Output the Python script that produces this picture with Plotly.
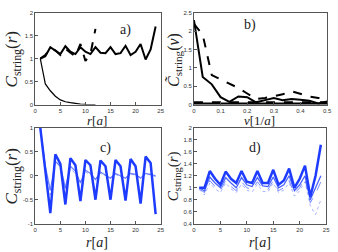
import plotly.graph_objects as go

# ---- data ----
r_a = list(range(1, 25))
a_solid = [1.0, 1.05, 1.25, 1.17, 1.1, 1.27, 1.15, 1.1, 1.25, 1.15, 1.1, 1.25,
           1.13, 1.12, 1.25, 1.1, 1.12, 1.28, 1.08, 1.15, 1.32, 0.98, 1.2, 1.7]
r_a_dash = list(range(1, 13))
a_dash = [1.0, 1.08, 1.22, 1.18, 1.08, 1.22, 1.13, 1.05, 1.32, 0.95, 1.1, 1.65]
r_decay = list(range(1, 13))
a_decay = [1.0, 0.45, 0.3, 0.18, 0.1, 0.06, 0.04, 0.02, 0.01, 0.005, 0.0, 0.0]

nu = [0, 0.033, 0.067, 0.1, 0.133, 0.167, 0.2, 0.233, 0.267, 0.3, 0.333, 0.367, 0.4, 0.433, 0.467, 0.5]
b_solid = [2.3, 0.75, 0.55, 0.2, 0.07, 0.22, 0.2, 0.06, 0.12, 0.18, 0.12, 0.15, 0.13, 0.1, 0.03, 0.08]
b_dash = [2.2, 1.9, 0.8, 0.68, 0.58, 0.45, 0.3, 0.15, 0.18, 0.22, 0.28, 0.36, 0.3, 0.22, 0.18, 0.16]
b_flat_dash = [0.06] * 16
b_flat_solid = [0.02] * 16

r_c = list(range(1, 25))
c_thick = [1.0, 0.1, -0.78, 0.45, 0.25, -0.6, 0.37, 0.22, -0.53, 0.33, 0.22, -0.5,
           0.32, 0.2, -0.5, 0.33, 0.2, -0.52, 0.35, 0.2, -0.58, 0.4, 0.27, -0.8]
c_thin1 = [1.0, 0.2, -0.3, 0.3, 0.2, -0.25, 0.2, 0.1, -0.15, 0.12, 0.05, -0.08,
           0.08, 0.02, -0.05, 0.05, 0.0, -0.05, 0.05, 0.03, -0.05, 0.05, 0.03, 0.0]
c_thin2 = [1.0, 0.15, -0.4, 0.35, 0.15, -0.3, 0.15, 0.05, -0.12, 0.08, 0.02, -0.06,
           0.05, 0.0, -0.04, 0.03, -0.02, -0.04, 0.03, 0.02, -0.04, 0.03, 0.02, -0.02]

r_d = list(range(1, 25))
d_thick = [1.0, 1.0, 1.28, 1.15, 1.05, 1.27, 1.15, 1.08, 1.28, 1.1, 1.08, 1.28,
           1.08, 1.08, 1.3, 1.05, 1.12, 1.32, 1.0, 1.15, 1.37, 0.85, 1.2, 1.72]
d_mid = [1.0, 0.95, 1.18, 1.08, 1.0, 1.17, 1.08, 1.0, 1.17, 1.05, 1.02, 1.17,
         1.03, 1.02, 1.18, 1.0, 1.05, 1.2, 0.95, 1.05, 1.2, 0.8, 1.0, 1.2]
d_thin = [0.98, 0.92, 1.12, 1.02, 0.95, 1.12, 1.02, 0.95, 1.1, 1.0, 0.97, 1.1,
          0.98, 0.97, 1.12, 0.95, 1.0, 1.12, 0.9, 1.0, 1.15, 0.75, 0.9, 1.1]
d_dot = [0.97, 0.88, 1.08, 0.98, 0.92, 1.08, 0.98, 0.92, 1.06, 0.96, 0.93, 1.06,
         0.94, 0.93, 1.08, 0.92, 0.96, 1.08, 0.86, 0.95, 1.1, 0.7, 0.55, 0.8]

BLUE = "rgb(30,60,255)"
fig = go.Figure()

def add(x, y, ax, color, width, dash="solid"):
    fig.add_trace(go.Scatter(x=x, y=y, mode="lines", xaxis="x" + ax, yaxis="y" + ax,
                             line=dict(color=color, width=width, dash=dash),
                             showlegend=False, hoverinfo="skip"))

# panel a
add(r_a, a_solid, "", "black", 2)
add(r_a_dash, a_dash, "", "black", 2, "dash")
add(r_decay, a_decay, "", "black", 1.2)
# panel b
add(nu, b_solid, "2", "black", 2)
add(nu, b_dash, "2", "black", 2, "dash")
add(nu, b_flat_dash, "2", "black", 2, "dash")
add(nu, b_flat_solid, "2", "black", 2.5)
# panel c
add(r_c, c_thin2, "3", "rgba(60,90,255,0.55)", 1, "dot")
add(r_c, c_thin1, "3", "rgba(60,90,255,0.75)", 1.2)
add(r_c, c_thick, "3", BLUE, 2.5)
# panel d
add(r_d, d_dot, "4", "rgba(60,90,255,0.45)", 1, "dot")
add(r_d, d_thin, "4", "rgba(60,90,255,0.7)", 1, "dash")
add(r_d, d_mid, "4", "rgba(40,70,255,0.85)", 1.3)
add(r_d, d_thick, "4", BLUE, 2.5)

W, H = 338, 252
def px(x): return x / W
def py(y): return 1 - y / H

tickfont = dict(family="Liberation Sans, Arial", size=6, color="#333")
axcommon = dict(showline=True, mirror=True, linecolor="#555", linewidth=1,
                ticks="inside", ticklen=3, tickcolor="#555", showgrid=False,
                zeroline=False, tickfont=tickfont)

fig.update_layout(
    width=W, height=H, margin=dict(l=0, r=0, t=0, b=0),
    paper_bgcolor="white", plot_bgcolor="white",
    xaxis=dict(domain=[px(34), px(162)], range=[0, 25], tickvals=[0, 5, 10, 15, 20, 25],
               anchor="y", **axcommon),
    yaxis=dict(domain=[py(104), py(10)], range=[0, 2], tickvals=[0, 0.5, 1, 1.5, 2],
               ticktext=["0", "0.5", "1", "1.5", "2"], anchor="x", **axcommon),
    xaxis2=dict(domain=[px(196), px(332)], range=[0, 0.5], tickvals=[0, 0.1, 0.2, 0.3, 0.4, 0.5],
                ticktext=["0", "0.1", "0.2", "0.3", "0.4", "0.5"], anchor="y2", **axcommon),
    yaxis2=dict(domain=[py(104), py(10)], range=[0, 2.5], tickvals=[0, 0.5, 1, 1.5, 2, 2.5],
                ticktext=["0", "0.5", "1", "1.5", "2", "2.5"], anchor="x2", **axcommon),
    xaxis3=dict(domain=[px(34), px(162)], range=[0, 25], tickvals=[0, 5, 10, 15, 20, 25],
                anchor="y3", **axcommon),
    yaxis3=dict(domain=[py(226), py(128)], range=[-1, 1], tickvals=[-1, -0.5, 0, 0.5, 1],
                ticktext=["-1", "-0.5", "0", "0.5", "1"], anchor="x3", **axcommon),
    xaxis4=dict(domain=[px(196), px(331)], range=[0, 25], tickvals=[0, 5, 10, 15, 20, 25],
                anchor="y4", **axcommon),
    yaxis4=dict(domain=[py(226), py(128)], range=[0.4, 2],
                tickvals=[0.4, 0.6, 0.8, 1, 1.2, 1.4, 1.6, 1.8, 2],
                ticktext=["0.4", "0.6", "0.8", "1", "1.2", "1.4", "1.6", "1.8", "2"],
                anchor="x4", **axcommon),
)

serif = "Liberation Serif, DejaVu Serif"
ytitle_a = "<i>C</i><sub>string</sub>(<i>r</i>)"
ytitle_b = "<i>C̃</i><sub>string</sub>(<i>ν</i>)"
anns = [
    # y titles
    dict(x=px(11), y=py(58), text=ytitle_a, textangle=-90, size=17),
    dict(x=px(176), y=py(58), text=ytitle_b, textangle=-90, size=16),
    dict(x=px(11), y=py(178), text=ytitle_a, textangle=-90, size=17),
    dict(x=px(175), y=py(177), text=ytitle_a, textangle=-90, size=15),
    # x titles
    dict(x=px(97), y=py(120), text="<i>r</i>[<i>a</i>]", textangle=0, size=13),
    dict(x=px(263), y=py(120), text="<i>ν</i>[1/<i>a</i>]", textangle=0, size=13),
    dict(x=px(97), y=py(245), text="<i>r</i>[<i>a</i>]", textangle=0, size=14),
    dict(x=px(263), y=py(245), text="<i>r</i>[<i>a</i>]", textangle=0, size=14),
    # panel labels
    dict(x=px(126), y=py(28), text="a)", textangle=0, size=14),
    dict(x=px(253), y=py(23), text="b)", textangle=0, size=14),
    dict(x=px(106), y=py(149), text="c)", textangle=0, size=14),
    dict(x=px(258), y=py(149), text="d)", textangle=0, size=14),
]
for a in anns:
    fig.add_annotation(x=a["x"], y=a["y"], xref="paper", yref="paper", text=a["text"],
                       textangle=a["textangle"], showarrow=False,
                       xanchor="center", yanchor="middle",
                       font=dict(family=serif, size=a["size"], color="#222"))

fig.write_html("out.html", config={"displayModeBar": False},
               post_script="document.body.style.margin='0';")
